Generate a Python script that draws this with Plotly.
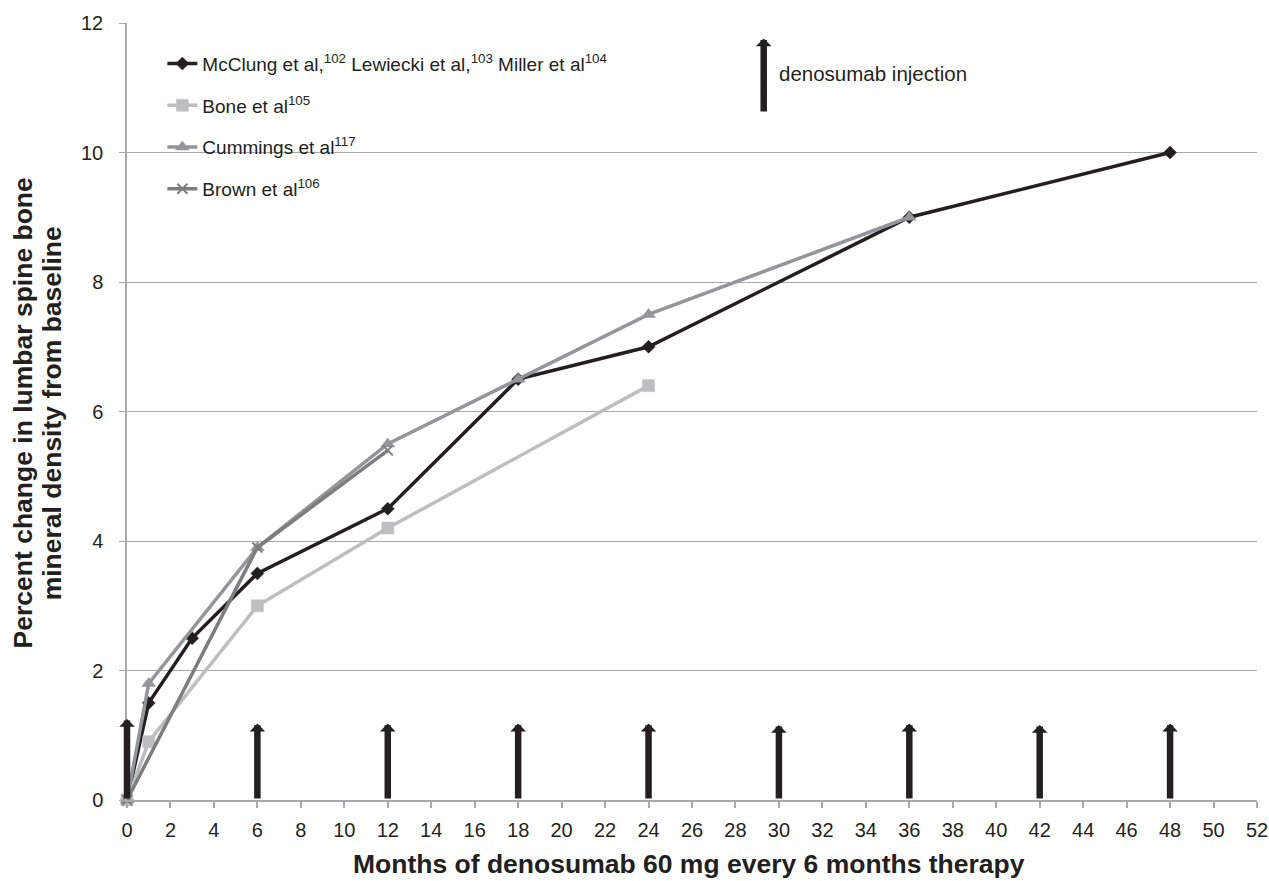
import plotly.graph_objects as go

# ---- data ----
mcclung_x = [0, 1, 3, 6, 12, 18, 24, 36, 48]
mcclung_y = [0, 1.5, 2.5, 3.5, 4.5, 6.5, 7.0, 9.0, 10.0]

bone_x = [0, 1, 6, 12, 24]
bone_y = [0, 0.9, 3.0, 4.2, 6.4]

cummings_x = [0, 1, 6, 12, 18, 24, 36]
cummings_y = [0, 1.8, 3.9, 5.5, 6.5, 7.5, 9.0]

brown_x = [0, 6, 12]
brown_y = [0, 3.9, 5.4]

injection_months = [0, 6, 12, 18, 24, 30, 36, 42, 48]
injection_heights = [1.25, 1.18, 1.18, 1.18, 1.18, 1.16, 1.18, 1.16, 1.18]

x_ticks = list(range(0, 53, 2))
y_ticks = list(range(0, 13, 2))

FONT = "Arial, Liberation Sans, sans-serif"
TXT = "#231f20"

fig = go.Figure()

series = [
    ("McClung et al,<sup>102</sup> Lewiecki et al,<sup>103</sup> Miller et al<sup>104</sup>",
     mcclung_x, mcclung_y, "#231f20", "diamond", 10),
    ("Bone et al<sup>105</sup>", bone_x, bone_y, "#bcbec0", "square", 12),
    ("Cummings et al<sup>117</sup>", cummings_x, cummings_y, "#939598", "triangle-up", 12),
    ("Brown et al<sup>106</sup>", brown_x, brown_y, "#7d7d7d", "x-thin", 10),
]
for i, (name, xs, ys, col, sym, sz) in enumerate(series):
    fig.add_trace(go.Scatter(
        x=xs, y=ys, name=name, mode="lines+markers",
        line=dict(color=col, width=3.5),
        marker=dict(symbol=sym, size=sz, color=col,
                    line=dict(color=col, width=2 if sym == "x-thin" else 0.5)),
        legendgroup=f"g{i}", cliponaxis=False,
    ))

# injection arrows
for m, h in zip(injection_months, injection_heights):
    fig.add_annotation(
        x=m, y=h, ax=m, ay=0, xref="x", yref="y", axref="x", ayref="y",
        text="", showarrow=True, arrowhead=1, arrowsize=0.4, arrowwidth=6.5,
        arrowcolor="#231f20", standoff=0, startstandoff=0,
    )

# legend arrow + text
fig.add_annotation(
    x=29.3, y=11.76, ax=29.3, ay=10.61, xref="x", yref="y", axref="x", ayref="y",
    text="", showarrow=True, arrowhead=1, arrowsize=0.4, arrowwidth=6.5,
    arrowcolor="#231f20", standoff=0,
)
fig.add_annotation(
    x=29.9, y=11.22, xref="x", yref="y", text="denosumab injection",
    showarrow=False, xanchor="left", yanchor="middle",
    font=dict(family=FONT, size=20.5, color=TXT),
)

# axis titles
fig.add_annotation(
    x=-0.0917, y=0.498, xref="paper", yref="paper",
    text="<b>Percent change in lumbar spine bone</b>",
    textangle=-90, showarrow=False, xanchor="center", yanchor="middle",
    font=dict(family=FONT, size=26.5, color=TXT),
)
fig.add_annotation(
    x=-0.0661, y=0.498, xref="paper", yref="paper",
    text="<b>mineral density from baseline</b>",
    textangle=-90, showarrow=False, xanchor="center", yanchor="middle",
    font=dict(family=FONT, size=26.5, color=TXT),
)
fig.add_annotation(
    x=0.4975, y=-0.083, xref="paper", yref="paper",
    text="<b>Months of denosumab 60 mg every 6 months therapy</b>",
    showarrow=False, xanchor="center", yanchor="middle",
    font=dict(family=FONT, size=26.5, color=TXT),
)

fig.update_layout(
    width=1269, height=881,
    margin=dict(l=126.7, r=12.3, t=22.7, b=80.7, autoexpand=False),
    paper_bgcolor="white", plot_bgcolor="white",
    font=dict(family=FONT, size=20, color=TXT),
    showlegend=True,
    legend=dict(
        x=0.0313, y=0.972, xanchor="left", yanchor="top",
        bgcolor="rgba(0,0,0,0)", borderwidth=0,
        font=dict(family=FONT, size=19, color=TXT),
        tracegroupgap=14, traceorder="grouped",
    ),
    xaxis=dict(
        range=[0, 52], tickvals=x_ticks, ticktext=[str(v) for v in x_ticks],
        showgrid=False, zeroline=False, automargin=False,
        showline=True, linecolor="#a7a9ac", linewidth=1.5,
        ticks="outside", ticklen=6, tickcolor="#a7a9ac", tickwidth=1.5,
        tickfont=dict(family=FONT, size=20, color=TXT),
        ticklabelstandoff=5,
    ),
    yaxis=dict(
        range=[0, 12], tickvals=y_ticks, ticktext=[str(v) for v in y_ticks],
        showgrid=True, gridcolor="#a7a9ac", gridwidth=1,
        zeroline=False, automargin=False,
        showline=True, linecolor="#a7a9ac", linewidth=1.5,
        ticks="outside", ticklen=6, tickcolor="#a7a9ac", tickwidth=1,
        tickfont=dict(family=FONT, size=20, color=TXT),
        ticklabelstandoff=12,
    ),
)

fig.write_html(
    "out.html",
    config={"displayModeBar": False},
    post_script="document.body.style.margin='0';document.body.style.overflow='hidden';",
)
